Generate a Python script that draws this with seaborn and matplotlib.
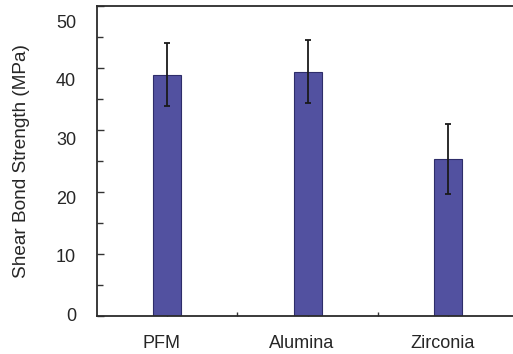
import matplotlib
matplotlib.use("Agg")
import matplotlib.pyplot as plt
import matplotlib.transforms as mtransforms
import seaborn as sns
import pandas as pd
import numpy as np
from matplotlib.ticker import MultipleLocator, FixedLocator

categories = ["PFM", "Alumina", "Zirconia"]
means = [38.9, 39.4, 25.3]
sds = [5.1, 5.1, 5.7]
ytick_values = [0, 10, 20, 30, 40, 50]

df = pd.DataFrame({"group": categories, "strength": means})

sns.set_style("white")
plt.rcParams["font.family"] = ["Liberation Sans", "DejaVu Sans"]

fig = plt.figure(figsize=(5.13, 3.54), dpi=100)
ax = fig.add_axes([97/513, 38/354, 1 - 97/513 + 0.01, 310/354])

sns.barplot(data=df, x="group", y="strength", ax=ax, color="#5251a0",
            saturation=1, width=0.2, edgecolor="#2e2d6a", linewidth=0.8,
            errorbar=None)
ax.errorbar(np.arange(len(categories)), means, yerr=sds, fmt="none",
            ecolor="#1a1a1a", elinewidth=1.3, capsize=2.2, capthick=1.3)

ax.set_xlim(-0.5, 2.5)
ax.set_ylim(0, 50)
ax.yaxis.set_major_locator(FixedLocator(ytick_values))
ax.yaxis.set_minor_locator(MultipleLocator(5))
ax.xaxis.set_major_locator(FixedLocator([0, 1, 2]))
ax.xaxis.set_minor_locator(FixedLocator([0.5, 1.5]))
ax.set_xticklabels(categories)

ax.tick_params(axis="y", which="major", direction="in", length=5, width=1,
               color="#333333", labelsize=13, pad=15, left=True)
ax.tick_params(axis="y", which="minor", direction="in", length=4, width=1,
               color="#333333", left=True)
ax.tick_params(axis="x", which="both", direction="in", length=3, width=1,
               color="#333333", labelsize=13, pad=13.5, bottom=True)

ax.set_xlabel("")
ax.set_ylabel("Shear Bond Strength (MPa)", fontsize=13.7, labelpad=19)

for s in ["left", "top", "bottom"]:
    ax.spines[s].set_visible(True)
    ax.spines[s].set_color("#2b2b2b")
    ax.spines[s].set_linewidth(1.3)
ax.spines["right"].set_visible(False)

# the source figure's y labels are spaced slightly tighter than its ticks
for tick, v in zip(ax.yaxis.get_major_ticks(), ytick_values):
    dy = (-1.7 + v / 10 * 3.4) / 100.0
    off = mtransforms.ScaledTranslation(0, -dy, fig.dpi_scale_trans)
    tick.label1.set_transform(tick.label1.get_transform() + off)

# category labels sit a little left of their bars in the source
xoff = mtransforms.ScaledTranslation(-0.055, 0, fig.dpi_scale_trans)
for tick in ax.xaxis.get_major_ticks():
    tick.label1.set_transform(tick.label1.get_transform() + xoff)

fig.savefig("out.png", dpi=100)
